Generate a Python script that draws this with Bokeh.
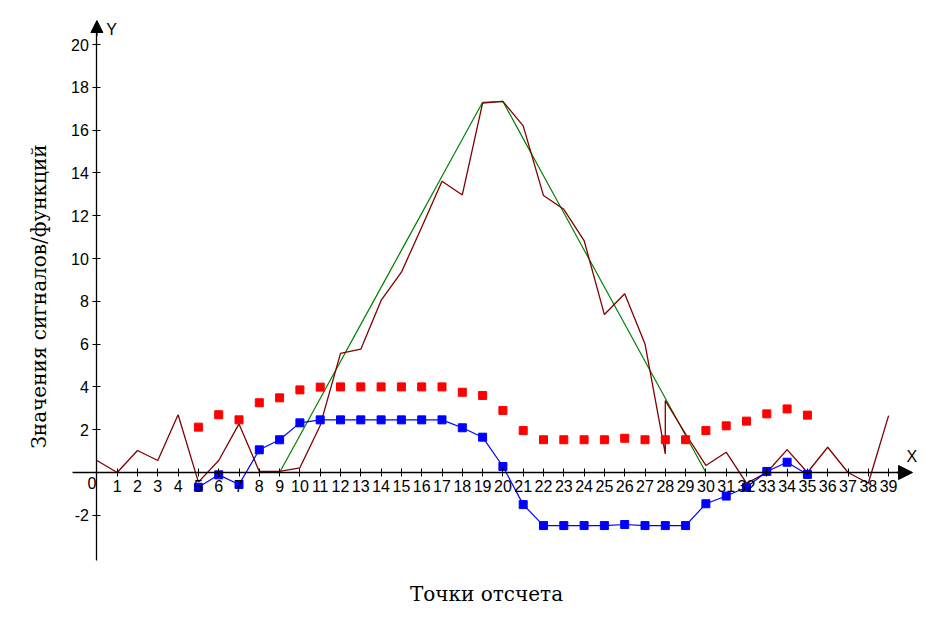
from bokeh.plotting import figure
from bokeh.models import FixedTicker, Label, Arrow, NormalHead, Range1d
from bokeh.embed import file_html
from bokeh.resources import INLINE

# ---- data ----
sample_x = list(range(40))
signal_x = list(range(29)) + [28] + list(range(29, 40))
signal_y = [0.56, 0.0, 1.03, 0.56, 2.7, -0.45, 0.56, 2.27, 0.05, 0.05,
            0.22, 2.2, 5.57, 5.76, 8.04, 9.36, 11.46, 13.61, 12.97, 17.26,
            17.34, 16.2, 12.94, 12.3, 10.84, 7.38, 8.35, 6.01, 0.87, 3.36,
            1.8, 0.33, 0.95, -0.5, 0.0, 1.07, 0.0, 1.18, 0.0, -0.5, 2.66]
model_y = [0, 0, 0, 0, 0, 0, 0, 0, 0, 0,
           1.73, 3.46, 5.19, 6.92, 8.65, 10.38, 12.11, 13.84, 15.57, 17.3,
           17.34, 15.6, 13.87, 12.14, 10.4, 8.67, 6.94, 5.2, 3.47, 1.73,
           0, 0, 0, 0, 0, 0, 0, 0, 0, 0]
win_x = list(range(5, 36))
red_y = [2.12, 2.7, 2.46, 3.26, 3.49, 3.86, 3.99, 4.0, 4.0, 4.0,
         4.0, 4.0, 4.0, 3.75, 3.6, 2.9, 1.96, 1.53, 1.53, 1.53,
         1.53, 1.6, 1.53, 1.53, 1.53, 1.96, 2.18, 2.4, 2.74, 2.97, 2.68]
blue_y = [-0.69, -0.11, -0.56, 1.06, 1.53, 2.32, 2.46, 2.46, 2.46, 2.46,
          2.46, 2.46, 2.46, 2.09, 1.65, 0.28, -1.5, -2.48, -2.48, -2.48,
          -2.48, -2.43, -2.48, -2.48, -2.48, -1.46, -1.1, -0.69, 0.05, 0.48, -0.09]
x_ticks = list(range(1, 40))
y_ticks = [-2, 2, 4, 6, 8, 10, 12, 14, 16, 18, 20]
x_title = "Точки отсчета"
y_title = "Значения сигналов/функций"

W, H = 922, 609
# pixel mapping (page coordinates): px = 96.4 + 20.3*x, py = 472 - 21.4*y
OFF = 0
x0 = (OFF - 96.4) / 20.3
x1 = (OFF + W - 96.4) / 20.3
y1 = (472 - OFF) / 21.4
y0 = (472 - OFF - H) / 21.4

p = figure(width=W, height=H, output_backend="svg", toolbar_location=None,
           x_range=Range1d(x0, x1), y_range=Range1d(y0, y1), min_border=0)
p.grid.visible = False
p.outline_line_color = None
p.background_fill_color = "white"
p.border_fill_color = "white"

for ax in (p.xaxis[0], p.yaxis[0]):
    ax.fixed_location = 0
    ax.axis_line_color = "black"
    ax.axis_line_width = 1.3
    ax.major_tick_line_color = "black"
    ax.major_tick_in = 4
    ax.major_tick_out = 4
    ax.minor_tick_line_color = None
    ax.major_label_text_font = "Liberation Sans"
    ax.major_label_text_font_size = "16px"
    ax.major_label_text_color = "black"

p.xaxis.ticker = FixedTicker(ticks=x_ticks)
p.yaxis.ticker = FixedTicker(ticks=y_ticks)
p.yaxis.major_label_overrides = {-2: "-2"}
p.xaxis.bounds = (-1.2, 39.6)
p.yaxis.bounds = (-4.1, 20.6)
p.xaxis.major_label_standoff = 3
p.yaxis.major_label_standoff = 4

p.add_layout(Arrow(end=NormalHead(size=14, fill_color="black", line_color="black"),
                   x_start=39.4, y_start=0, x_end=40.18, y_end=0,
                   line_color="black", line_width=1.3))
p.add_layout(Arrow(end=NormalHead(size=12, fill_color="black", line_color="black"),
                   x_start=0, y_start=20.4, x_end=0, y_end=21.12,
                   line_color="black", line_width=1.3))

p.line(sample_x, model_y, line_color="#008000", line_width=1.2)
p.line(signal_x, signal_y, line_color="#800000", line_width=1.3)
p.line(win_x, blue_y, line_color="#0000ff", line_width=1.2)
p.scatter(win_x, blue_y, marker="square", size=8, fill_color="#0000ff", line_color="#0000ff")
p.scatter(win_x, red_y, marker="square", size=8, fill_color="#ff0000", line_color="#ff0000")

p.add_layout(Label(x=-0.25, y=-0.5, text="0", text_align="center", text_baseline="middle",
                   text_font="Liberation Sans", text_font_size="16px", text_color="black"))
p.add_layout(Label(x=40.15, y=0.75, text="X", text_align="center", text_baseline="middle",
                   text_font="Liberation Sans", text_font_size="16px", text_color="black"))
p.add_layout(Label(x=0.72, y=20.7, text="Y", text_align="center", text_baseline="middle",
                   text_font="Liberation Sans", text_font_size="16px", text_color="black"))
p.add_layout(Label(x=486 - OFF, y=H - (593 - OFF), x_units="screen", y_units="screen",
                   text=x_title, text_align="center", text_baseline="middle",
                   text_font="DejaVu Serif", text_font_size="20px", text_color="black"))
p.add_layout(Label(x=38 - OFF, y=H - (296 - OFF), x_units="screen", y_units="screen",
                   text=y_title, angle=90, angle_units="deg", text_align="center",
                   text_baseline="middle",
                   text_font="DejaVu Serif", text_font_size="20px", text_color="black"))

open("out.html", "w").write(file_html(p, INLINE))
